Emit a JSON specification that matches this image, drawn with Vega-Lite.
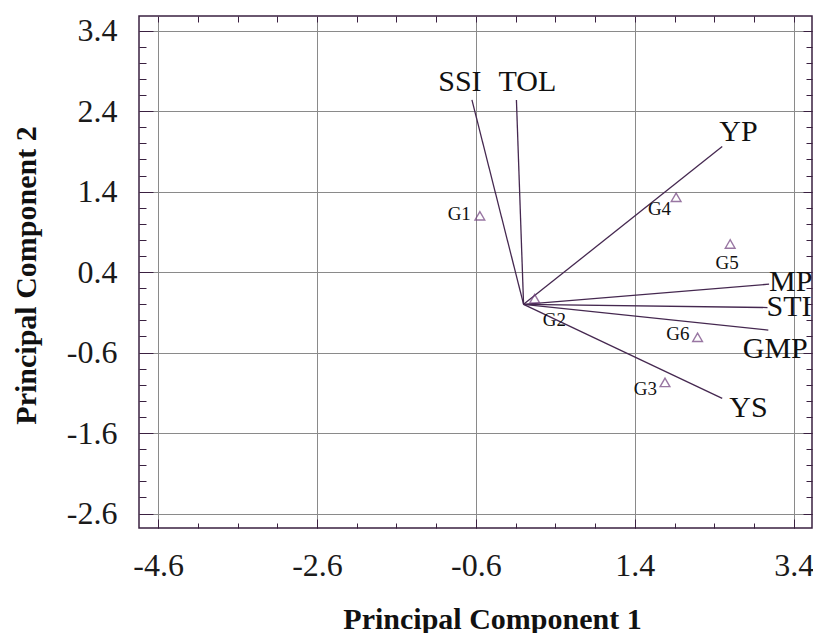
{
  "$schema": "https://vega.github.io/schema/vega-lite/v6.json",
  "width": 673,
  "height": 512,
  "autosize": {"type": "none"},
  "padding": {"left": 139, "top": 16, "right": 1, "bottom": 105},
  "background": "white",
  "datasets": {
    "vars": [
      {"name": "SSI", "x": -0.65, "y": 2.54},
      {"name": "TOL", "x": -0.09, "y": 2.54},
      {"name": "YP", "x": 2.5, "y": 1.96},
      {"name": "MP", "x": 3.09, "y": 0.25},
      {"name": "STI", "x": 3.07, "y": -0.04},
      {"name": "GMP", "x": 3.08, "y": -0.32},
      {"name": "YS", "x": 2.5, "y": -1.17}
    ],
    "geno": [
      {"name": "G1", "x": -0.55, "y": 1.1},
      {"name": "G2", "x": 0.14, "y": 0.07},
      {"name": "G3", "x": 1.78, "y": -0.97},
      {"name": "G4", "x": 1.92, "y": 1.33},
      {"name": "G5", "x": 2.6, "y": 0.75},
      {"name": "G6", "x": 2.19, "y": -0.41}
    ]
  },
  "encoding": {
    "x": {"field": "x", "type": "quantitative", "scale": {"domain": [-4.84, 3.63], "nice": false, "zero": false}, "axis": null},
    "y": {"field": "y", "type": "quantitative", "scale": {"domain": [-2.78, 3.583], "nice": false, "zero": false}, "axis": null}
  },
  "layer": [
    {
      "data": {"name": "vars"},
      "mark": {"type": "rule", "color": "#452850", "strokeWidth": 1.3},
      "encoding": {
        "x": {"field": "x", "type": "quantitative", "scale": {"domain": [-4.84, 3.63], "nice": false, "zero": false},
          "axis": {"orient": "bottom", "values": [-4.6, -2.6, -0.6, 1.4, 3.4], "grid": true, "gridColor": "#8a8a8a", "gridWidth": 1, "gridOpacity": 1,
            "tickSize": -9, "tickColor": "#3a2040", "tickWidth": 1, "domain": false, "labelFlush": false, "labelOverlap": false,
            "labelFont": "Liberation Serif", "labelFontSize": 32, "labelColor": "#1a1a1a", "labelPadding": 31,
            "labelExpr": "replace(format(datum.value, '.1f'), '\u2212', '-')",
            "title": "Principal Component 1", "titleFont": "Liberation Serif", "titleFontSize": 30, "titleFontWeight": "bold", "titleColor": "#111111",
            "titleX": 353, "titleY": 100, "titleBaseline": "alphabetic", "titleAlign": "center", "titleAnchor": null}},
        "y": {"field": "y", "type": "quantitative", "scale": {"domain": [-2.78, 3.583], "nice": false, "zero": false},
          "axis": {"orient": "left", "values": [3.4, 2.4, 1.4, 0.4, -0.6, -1.6, -2.6], "grid": true, "gridColor": "#8a8a8a", "gridWidth": 1, "gridOpacity": 1,
            "tickSize": -14, "tickColor": "#3a2040", "tickWidth": 1, "domain": false, "labelFlush": false, "labelOverlap": false,
            "labelFont": "Liberation Serif", "labelFontSize": 32, "labelColor": "#1a1a1a", "labelPadding": 36,
            "labelExpr": "replace(format(datum.value, '.1f'), '\u2212', '-')",
            "title": "Principal Component 2", "titleFont": "Liberation Serif", "titleFontSize": 30, "titleFontWeight": "bold", "titleColor": "#111111",
            "titleX": -104, "titleY": 259, "titleBaseline": "alphabetic", "titleAlign": "center", "titleAngle": 270, "titleAnchor": null}},
        "x2": {"datum": 0},
        "y2": {"datum": 0}
      }
    },
    {
      "data": {"name": "geno"},
      "mark": {"type": "point", "shape": "triangle-up", "filled": false, "size": 95, "color": "#6e3d7c", "strokeWidth": 1.4},
      "encoding": {
        "x": {"field": "x", "type": "quantitative", "scale": {"domain": [-4.84, 3.63], "nice": false, "zero": false},
          "axis": {"orient": "bottom", "values": [-4.6, -4.1, -3.6, -3.1, -2.6, -2.1, -1.6, -1.1, -0.6, -0.1, 0.4, 0.9, 1.4, 1.9, 2.4, 2.9, 3.4],
            "grid": false, "tickSize": -5, "tickColor": "#3a2040", "tickWidth": 1, "domain": false, "labels": false, "title": null}},
        "y": {"field": "y", "type": "quantitative", "scale": {"domain": [-2.78, 3.583], "nice": false, "zero": false},
          "axis": {"orient": "left", "values": [3.4, 3.2, 3.0, 2.8, 2.6, 2.4, 2.2, 2.0, 1.8, 1.6, 1.4, 1.2, 1.0, 0.8, 0.6, 0.4, 0.2, 0.0, -0.2, -0.4, -0.6, -0.8, -1.0, -1.2, -1.4, -1.6, -1.8, -2.0, -2.2, -2.4, -2.6],
            "grid": false, "tickSize": -7, "tickColor": "#3a2040", "tickWidth": 1, "domain": false, "labels": false, "title": null}}
      }
    },
    {
      "data": {"name": "vars"},
      "transform": [{"filter": "datum.name === 'SSI'"}],
      "mark": {"type": "text", "font": "Liberation Serif", "fontSize": 30, "color": "#111111", "align": "center", "baseline": "alphabetic", "dx": -12, "dy": -9},
      "encoding": {
        "x": {"field": "x", "type": "quantitative", "scale": {"domain": [-4.84, 3.63], "nice": false, "zero": false},
          "axis": {"orient": "top", "values": [-4.6, -4.1, -3.6, -3.1, -2.6, -2.1, -1.6, -1.1, -0.6, -0.1, 0.4, 0.9, 1.4, 1.9, 2.4, 2.9, 3.4],
            "grid": false, "tickSize": -6, "tickColor": "#3a2040", "tickWidth": 1, "domain": false, "labels": false, "title": null}},
        "y": {"field": "y", "type": "quantitative", "scale": {"domain": [-2.78, 3.583], "nice": false, "zero": false},
          "axis": {"orient": "right", "values": [3.4, 2.4, 1.4, 0.4, -0.6, -1.6, -2.6],
            "grid": false, "tickSize": -9, "tickColor": "#3a2040", "tickWidth": 1, "domain": false, "labels": false, "title": null}},
        "text": {"field": "name"}
      }
    },
    {
      "data": {"name": "vars"},
      "transform": [{"filter": "datum.name === 'TOL'"}],
      "mark": {"type": "text", "font": "Liberation Serif", "fontSize": 30, "color": "#111111", "align": "center", "baseline": "alphabetic", "dx": 11, "dy": -9},
      "encoding": {
        "x": {"field": "x", "type": "quantitative", "scale": {"domain": [-4.84, 3.63], "nice": false, "zero": false}, "axis": null},
        "y": {"field": "y", "type": "quantitative", "scale": {"domain": [-2.78, 3.583], "nice": false, "zero": false},
          "axis": {"orient": "right", "values": [3.4, 3.2, 3.0, 2.8, 2.6, 2.4, 2.2, 2.0, 1.8, 1.6, 1.4, 1.2, 1.0, 0.8, 0.6, 0.4, 0.2, 0.0, -0.2, -0.4, -0.6, -0.8, -1.0, -1.2, -1.4, -1.6, -1.8, -2.0, -2.2, -2.4, -2.6],
            "grid": false, "tickSize": -6, "tickColor": "#3a2040", "tickWidth": 1, "domain": false, "labels": false, "title": null}},
        "text": {"field": "name"}
      }
    },
    {
      "data": {"name": "vars"},
      "transform": [{"filter": "datum.name === 'YP'"}],
      "mark": {"type": "text", "font": "Liberation Serif", "fontSize": 30, "color": "#111111", "align": "left", "baseline": "alphabetic", "dx": -3, "dy": -6},
      "encoding": {"text": {"field": "name"}}
    },
    {
      "data": {"name": "vars"},
      "transform": [{"filter": "datum.name === 'MP'"}],
      "mark": {"type": "text", "font": "Liberation Serif", "fontSize": 30, "color": "#111111", "align": "left", "baseline": "alphabetic", "dx": 0, "dy": 7, "clip": true},
      "encoding": {"text": {"field": "name"}}
    },
    {
      "data": {"name": "vars"},
      "transform": [{"filter": "datum.name === 'STI'"}],
      "mark": {"type": "text", "font": "Liberation Serif", "fontSize": 30, "color": "#111111", "align": "left", "baseline": "alphabetic", "dx": -1, "dy": 8, "clip": true},
      "encoding": {"text": {"field": "name"}}
    },
    {
      "data": {"name": "vars"},
      "transform": [{"filter": "datum.name === 'GMP'"}],
      "mark": {"type": "text", "font": "Liberation Serif", "fontSize": 30, "color": "#111111", "align": "center", "baseline": "alphabetic", "dx": 7, "dy": 28, "clip": true},
      "encoding": {"text": {"field": "name"}}
    },
    {
      "data": {"name": "vars"},
      "transform": [{"filter": "datum.name === 'YS'"}],
      "mark": {"type": "text", "font": "Liberation Serif", "fontSize": 30, "color": "#111111", "align": "left", "baseline": "alphabetic", "dx": 7, "dy": 19},
      "encoding": {"text": {"field": "name"}}
    },
    {
      "data": {"name": "geno"},
      "transform": [{"filter": "datum.name === 'G1'"}],
      "mark": {"type": "text", "font": "Liberation Serif", "fontSize": 19, "color": "#111111", "align": "right", "baseline": "alphabetic", "dx": -9, "dy": 4},
      "encoding": {"text": {"field": "name"}}
    },
    {
      "data": {"name": "geno"},
      "transform": [{"filter": "datum.name === 'G4'"}],
      "mark": {"type": "text", "font": "Liberation Serif", "fontSize": 19, "color": "#111111", "align": "right", "baseline": "alphabetic", "dx": -5, "dy": 18},
      "encoding": {"text": {"field": "name"}}
    },
    {
      "data": {"name": "geno"},
      "transform": [{"filter": "datum.name === 'G5'"}],
      "mark": {"type": "text", "font": "Liberation Serif", "fontSize": 19, "color": "#111111", "align": "center", "baseline": "alphabetic", "dx": -3, "dy": 25},
      "encoding": {"text": {"field": "name"}}
    },
    {
      "data": {"name": "geno"},
      "transform": [{"filter": "datum.name === 'G2'"}],
      "mark": {"type": "text", "font": "Liberation Serif", "fontSize": 19, "color": "#111111", "align": "left", "baseline": "alphabetic", "dx": 8, "dy": 27},
      "encoding": {"text": {"field": "name"}}
    },
    {
      "data": {"name": "geno"},
      "transform": [{"filter": "datum.name === 'G6'"}],
      "mark": {"type": "text", "font": "Liberation Serif", "fontSize": 19, "color": "#111111", "align": "right", "baseline": "alphabetic", "dx": -8, "dy": 3},
      "encoding": {"text": {"field": "name"}}
    },
    {
      "data": {"name": "geno"},
      "transform": [{"filter": "datum.name === 'G3'"}],
      "mark": {"type": "text", "font": "Liberation Serif", "fontSize": 19, "color": "#111111", "align": "right", "baseline": "alphabetic", "dx": -8, "dy": 13},
      "encoding": {"text": {"field": "name"}}
    }
  ],
  "resolve": {"axis": {"x": "independent", "y": "independent"}},
  "config": {
    "view": {"stroke": "#3a2040", "strokeWidth": 1.5},
    "axis": {"domain": false}
  }
}
